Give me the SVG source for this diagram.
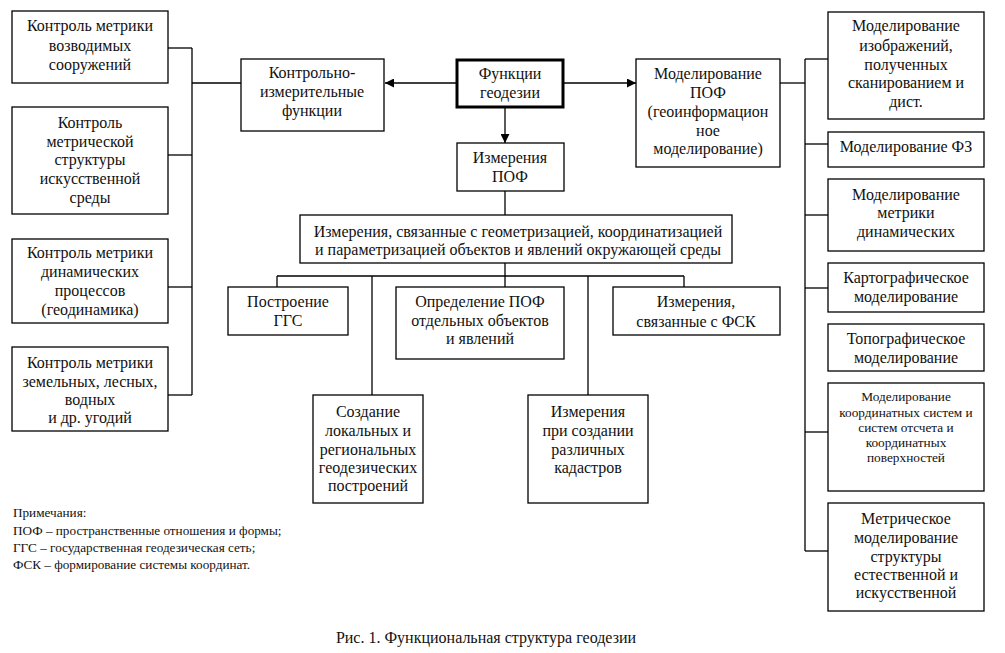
<svg xmlns="http://www.w3.org/2000/svg" width="1005" height="653" viewBox="0 0 1005 653" font-family="Liberation Serif, serif">
<style>
.b{fill:#fff;stroke:#000;stroke-width:1.3}
.tk{fill:#fff;stroke:#000;stroke-width:3}
text{font-family:'Liberation Serif','Times New Roman',serif;font-size:16px;fill:#111;text-anchor:middle}
.sm{font-size:13.3px}
.note{font-size:13.2px;text-anchor:start}
.cap{font-size:16px}
#conn line,#conn path{stroke:#000;stroke-width:1.3;fill:none}
</style>
<defs>
<marker id="ar" viewBox="0 0 10 10" refX="10" refY="5" markerWidth="9" markerHeight="9" markerUnits="userSpaceOnUse" orient="auto">
<path d="M0,0 L10,5 L0,10 Z" fill="#000"/>
</marker>
</defs>
<rect width="1005" height="653" fill="#fff"/>
<g id="conn">
<line x1="192" y1="48" x2="192" y2="395"/>
<line x1="168" y1="48" x2="192" y2="48"/>
<line x1="168" y1="155" x2="192" y2="155"/>
<line x1="168" y1="287" x2="192" y2="287"/>
<line x1="168" y1="395" x2="192" y2="395"/>
<line x1="192" y1="83" x2="241" y2="83"/>
<line x1="456" y1="83" x2="385" y2="83" marker-end="url(#ar)"/>
<line x1="564" y1="83" x2="636" y2="83" marker-end="url(#ar)"/>
<line x1="505" y1="108" x2="505" y2="143" marker-end="url(#ar)"/>
<line x1="505" y1="191" x2="505" y2="215"/>
<line x1="505" y1="263" x2="505" y2="287"/>
<line x1="277" y1="276" x2="684" y2="276"/>
<line x1="277" y1="276" x2="277" y2="287"/>
<line x1="372" y1="276" x2="372" y2="395"/>
<line x1="588" y1="276" x2="588" y2="395"/>
<line x1="684" y1="276" x2="684" y2="287"/>
<line x1="780" y1="83" x2="805" y2="83"/>
<line x1="805" y1="59" x2="805" y2="551"/>
<line x1="805" y1="59" x2="828" y2="59"/>
<line x1="805" y1="144" x2="828" y2="144"/>
<line x1="805" y1="215" x2="828" y2="215"/>
<line x1="805" y1="288" x2="828" y2="288"/>
<line x1="805" y1="432" x2="828" y2="432"/>
<line x1="805" y1="551" x2="828" y2="551"/>
</g>
<g id="l1"><rect class="b" x="12" y="11" width="156" height="72"/>
<text x="90" y="31">Контроль метрики</text><text x="90" y="51">возводимых</text><text x="90" y="70">сооружений</text></g>
<g id="l2"><rect class="b" x="12" y="107" width="156" height="107"/>
<text x="90" y="128">Контроль</text><text x="90" y="147">метрической</text><text x="90" y="165">структуры</text><text x="90" y="184">искусственной</text><text x="90" y="203">среды</text></g>
<g id="l3"><rect class="b" x="12" y="239" width="156" height="84"/>
<text x="90" y="258">Контроль метрики</text><text x="90" y="277">динамических</text><text x="90" y="296">процессов</text><text x="90" y="315">(геодинамика)</text></g>
<g id="l4"><rect class="b" x="12" y="347" width="156" height="84"/>
<text x="90" y="368">Контроль метрики</text><text x="90" y="387">земельных, лесных,</text><text x="90" y="405">водных</text><text x="90" y="423">и др. угодий</text></g>
<g id="kif"><rect class="b" x="241" y="59" width="143" height="72"/>
<text x="312" y="78">Контрольно-</text><text x="312" y="97">измерительные</text><text x="312" y="116">функции</text></g>
<g id="fg"><rect class="tk" x="457" y="60" width="106" height="47"/>
<text x="510" y="79">Функции</text><text x="510" y="98">геодезии</text></g>
<g id="mpof"><rect class="b" x="636" y="59" width="144" height="108"/>
<text x="708" y="79">Моделирование</text><text x="708" y="98">ПОФ</text><text x="708" y="117">(геоинформацион</text><text x="708" y="136">ное</text><text x="708" y="154">моделирование)</text></g>
<g id="ipof"><rect class="b" x="457" y="143" width="107" height="48"/>
<text x="510" y="163">Измерения</text><text x="510" y="182">ПОФ</text></g>
<g id="big"><rect class="b" x="300" y="215" width="432" height="48"/>
<text x="518" y="237">Измерения, связанные с геометризацией, координатизацией</text><text x="518" y="255">и параметризацией объектов и явлений окружающей среды</text></g>
<g id="ggs"><rect class="b" x="228" y="287" width="120" height="48"/>
<text x="288" y="307">Построение</text><text x="288" y="326">ГГС</text></g>
<g id="opof"><rect class="b" x="396" y="287" width="168" height="72"/>
<text x="480" y="307">Определение ПОФ</text><text x="480" y="326">отдельных объектов</text><text x="480" y="344">и явлений</text></g>
<g id="fsk"><rect class="b" x="613" y="287" width="167" height="48"/>
<text x="696" y="307">Измерения,</text><text x="696" y="327">связанные с ФСК</text></g>
<g id="sozd"><rect class="b" x="313" y="395" width="110" height="108"/>
<text x="368" y="417">Создание</text><text x="368" y="436">локальных и</text><text x="368" y="455">региональных</text><text x="368" y="473">геодезических</text><text x="368" y="491">построений</text></g>
<g id="kad"><rect class="b" x="528" y="395" width="120" height="108"/>
<text x="588" y="417">Измерения</text><text x="588" y="436">при создании</text><text x="588" y="455">различных</text><text x="588" y="473">кадастров</text></g>
<g id="r1"><rect class="b" x="828" y="12" width="156" height="107"/>
<text x="906" y="31">Моделирование</text><text x="906" y="51">изображений,</text><text x="906" y="70">полученных</text><text x="906" y="88">сканированием и</text><text x="906" y="107">дист.</text></g>
<g id="r2"><rect class="b" x="828" y="132" width="156" height="35"/>
<text x="906" y="152">Моделирование ФЗ</text></g>
<g id="r3"><rect class="b" x="828" y="179" width="156" height="72"/>
<text x="906" y="200">Моделирование</text><text x="906" y="218">метрики</text><text x="906" y="237">динамических</text></g>
<g id="r4"><rect class="b" x="828" y="263" width="156" height="49"/>
<text x="906" y="283">Картографическое</text><text x="906" y="302">моделирование</text></g>
<g id="r5"><rect class="b" x="828" y="324" width="156" height="47"/>
<text x="906" y="344">Топографическое</text><text x="906" y="363">моделирование</text></g>
<g id="r6"><rect class="b" x="828" y="383" width="156" height="108"/>
<text class="sm" x="906" y="401">Моделирование</text><text class="sm" x="906" y="417">координатных систем и</text><text class="sm" x="906" y="432">систем отсчета и</text><text class="sm" x="906" y="447">координатных</text><text class="sm" x="906" y="462">поверхностей</text></g>
<g id="r7"><rect class="b" x="828" y="503" width="156" height="108"/>
<text x="906" y="524">Метрическое</text><text x="906" y="543">моделирование</text><text x="906" y="562">структуры</text><text x="906" y="580">естественной и</text><text x="906" y="598">искусственной</text></g>
<g id="notes">
<text class="note" x="13" y="517">Примечания:</text>
<text class="note" x="13" y="535">ПОФ – пространственные отношения и формы;</text>
<text class="note" x="13" y="552">ГГС – государственная геодезическая сеть;</text>
<text class="note" x="13" y="569">ФСК – формирование системы координат.</text>
</g>
<text class="cap" x="486" y="643">Рис. 1. Функциональная структура геодезии</text>
</svg>
